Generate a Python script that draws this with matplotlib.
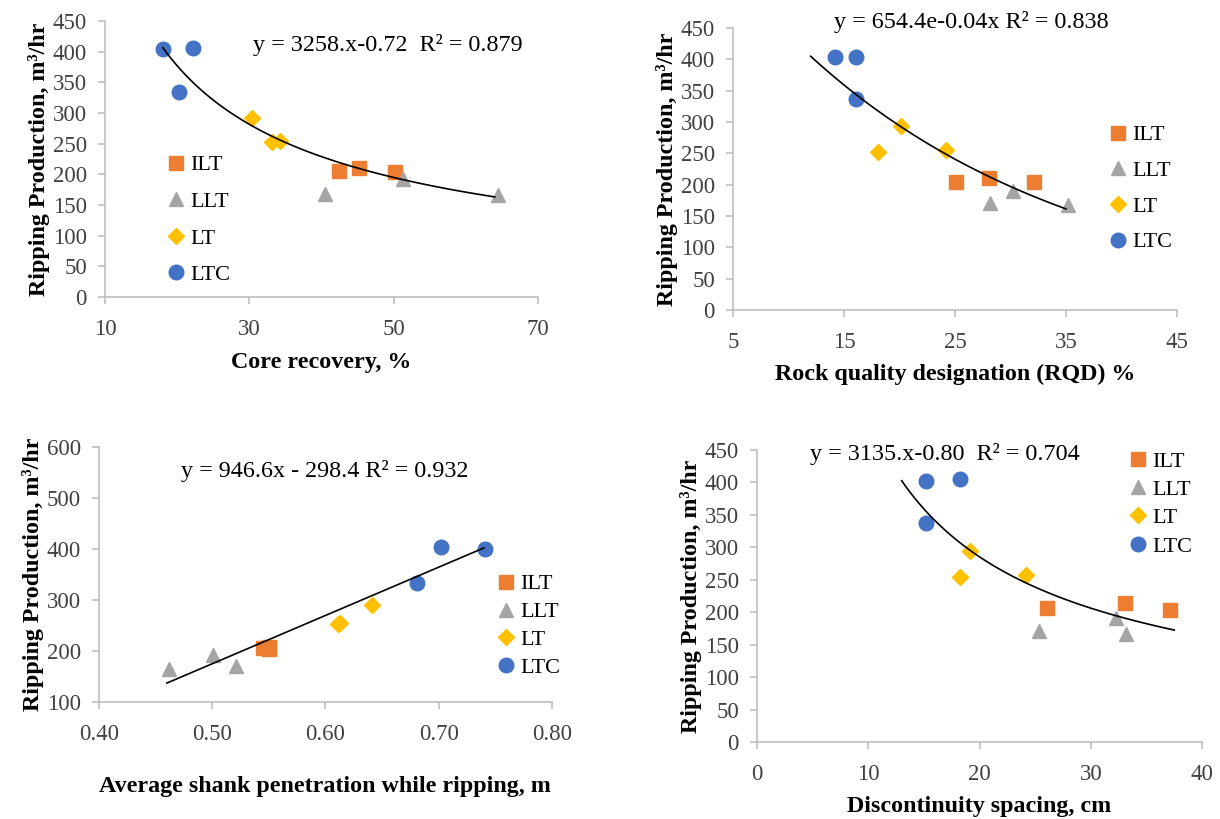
import numpy as np
import matplotlib
matplotlib.use('Agg')
import matplotlib.pyplot as plt

plt.rcParams['font.family'] = ['Liberation Serif', 'DejaVu Serif']

groups = ['ILT', 'LLT', 'LT', 'LTC']
colors = {'ILT': '#ED7D31', 'LLT': '#A5A5A5', 'LT': '#FFC000', 'LTC': '#4472C4'}
markers = {'ILT': 's', 'LLT': '^', 'LT': 'D', 'LTC': 'o'}
msizes = {'ILT': 10.5, 'LLT': 9.5, 'LT': 8.5, 'LTC': 10.5}

# production values (m3/hr) for each rock group
prod = {
    'ILT': [206, 211, 204],
    'LLT': [168, 192, 166],
    'LT': [292, 253, 255],
    'LTC': [404, 406, 335],
}

# core recovery, %
core = {
    'ILT': [42.4, 45.2, 50.2],
    'LLT': [40.5, 51.3, 64.5],
    'LT': [30.4, 33.1, 34.3],
    'LTC': [18.0, 22.2, 20.3],
}
# RQD, %
rqd = {
    'ILT': [25.1, 28.1, 32.1],
    'LLT': [28.2, 30.2, 35.2],
    'LT': [20.1, 18.1, 24.2],
    'LTC': [14.2, 16.1, 16.1],
}
prod_rqd = {
    'ILT': [204, 211, 204],
    'LLT': [170, 190, 167],
    'LT': [293, 252, 256],
    'LTC': [403, 403, 336],
}
# shank penetration, m
shank = {
    'ILT': [0.545, 0.55, 0.55],
    'LLT': [0.462, 0.501, 0.521],
    'LT': [0.641, 0.611, 0.613],
    'LTC': [0.702, 0.741, 0.681],
}
prod_shank = {
    'ILT': [206, 208, 204],
    'LLT': [165, 192, 170],
    'LT': [290, 253, 254],
    'LTC': [404, 400, 334],
}
# discontinuity spacing, cm
spacing = {
    'ILT': [26.1, 33.1, 37.1],
    'LLT': [25.3, 32.3, 33.2],
    'LT': [19.1, 18.2, 24.2],
    'LTC': [15.2, 18.2, 15.2],
}
prod_spacing = {
    'ILT': [207, 214, 204],
    'LLT': [171, 191, 167],
    'LT': [294, 254, 258],
    'LTC': [403, 406, 338],
}

ylab = 'Ripping Production, m\u00b3/hr'

fig = plt.figure(figsize=(12.2, 8.19), dpi=100)


def style(ax):
    for s in ['top', 'right']:
        ax.spines[s].set_visible(False)
    for s in ['left', 'bottom']:
        ax.spines[s].set_color('#BFBFBF')
        ax.spines[s].set_linewidth(1.2)
    ax.tick_params(colors='#BFBFBF', labelcolor='#404040', labelsize=16.5, length=5, width=1.2)
    ax.tick_params(axis='y', pad=8)
    ax.tick_params(axis='x', pad=11)


def panel(rect, xs, ys, xlim, xticks, ylim, yticks, xlabel, fit_x, fit_y, eq, eqpos, legpos,
          xfmt=None, xpad=10, lspace=0.6):
    ax = fig.add_axes(rect)
    style(ax)
    for g in groups:
        ax.plot(xs[g], ys[g], ls='none', marker=markers[g], color=colors[g],
                markersize=msizes[g], label=g, clip_on=False)
    ax.plot(fit_x, fit_y, color='black', lw=1.2)
    ax.set_xlim(*xlim)
    ax.set_ylim(*ylim)
    ax.set_xticks(xticks)
    ax.set_yticks(yticks)
    if xfmt:
        ax.set_xticklabels([xfmt % t for t in xticks])
    ax.set_xlabel(xlabel, fontsize=17.3, fontweight='bold', labelpad=xpad)
    ax.set_ylabel(ylab, fontsize=17.3, fontweight='bold', labelpad=2)
    ax.text(eqpos[0], eqpos[1], eq, transform=ax.transAxes, fontsize=17.4, ha='left', va='center')
    ax.legend(loc='upper left', bbox_to_anchor=legpos, frameon=False, fontsize=16,
              handletextpad=0.0, labelspacing=lspace, borderaxespad=0, handlelength=1.3)
    return ax


x1 = np.linspace(18, 64, 100)
panel([0.0861, 0.6374, 0.3549, 0.337], core, prod, (10, 70), [10, 30, 50, 70],
      (0, 450), range(0, 451, 50), 'Core recovery, %',
      x1, 3258 * x1 ** -0.72, 'y = 3258.x-0.72  R\u00b2 = 0.879', (0.342, 0.913), (0.109, 0.547),
      xpad=8.5, lspace=0.72)

x2 = np.linspace(12, 35, 100)
panel([0.6008, 0.6215, 0.3639, 0.3443], rqd, prod_rqd, (5, 45), [5, 15, 25, 35, 45],
      (0, 450), range(0, 451, 50), 'Rock quality designation (RQD) %',
      x2, 654.4 * np.exp(-0.04 * x2), 'y = 654.4e-0.04x R\u00b2 = 0.838', (0.2275, 1.021), (0.814, 0.688),
      xpad=7.7, lspace=0.68)

x3 = np.linspace(0.46, 0.74, 50)
panel([0.0811, 0.1429, 0.3713, 0.3114], shank, prod_shank, (0.40, 0.80), [0.40, 0.50, 0.60, 0.70, 0.80],
      (100, 600), range(100, 601, 100), 'Average shank penetration while ripping, m',
      x3, 946.6 * x3 - 298.4, 'y = 946.6x - 298.4 R\u00b2 = 0.932', (0.181, 0.906), (0.846, 0.537),
      xfmt='%.2f', xpad=22.3, lspace=0.33)

x4 = np.linspace(13, 37.5, 100)
panel([0.6205, 0.094, 0.3648, 0.3565], spacing, prod_spacing, (0, 40), [0, 10, 20, 30, 40],
      (0, 450), range(0, 451, 50), 'Discontinuity spacing, cm',
      x4, 3135 * x4 ** -0.80, 'y = 3135.x-0.80  R\u00b2 = 0.704', (0.119, 0.986), (0.803, 1.027),
      xpad=8, lspace=0.35)

fig.savefig('out.png', dpi=100)
